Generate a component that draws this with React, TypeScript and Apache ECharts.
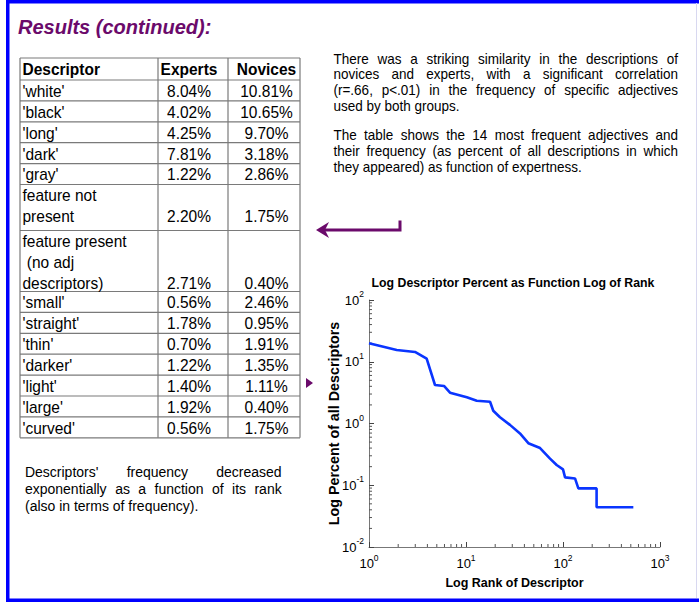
import React, { useEffect, useRef } from 'react';
import * as echarts from 'echarts';

// ---------- data ----------
const pageTitle = 'Results (continued):';
const tableHeaders = ['Descriptor', 'Experts', 'Novices'];
const descriptors = [
  "'white'", "'black'", "'long'", "'dark'", "'gray'",
  'feature not\npresent',
  'feature present\n (no adj\ndescriptors)',
  "'small'", "'straight'", "'thin'", "'darker'", "'light'", "'large'", "'curved'",
];
const expertsPct = [8.04, 4.02, 4.25, 7.81, 1.22, 2.2, 2.71, 0.56, 1.78, 0.7, 1.22, 1.4, 1.92, 0.56];
const novicesPct = [10.81, 10.65, 9.7, 3.18, 2.86, 1.75, 0.4, 2.46, 0.95, 1.91, 1.35, 1.11, 0.4, 1.75];

const rightParagraphs = [
  [
    'There was a striking similarity in the descriptions of',
    'novices and experts, with a significant correlation',
    '(r=.66, p<.01) in the frequency of specific adjectives',
    'used by both groups.',
  ],
  [
    'The table shows the 14 most frequent adjectives and',
    'their frequency (as percent of all descriptions in which',
    'they appeared) as function of expertness.',
  ],
];
const bottomNote = [
  "Descriptors'  frequency  decreased",
  'exponentially as a function of its rank',
  '(also in terms of frequency).',
];

const chartTitle = 'Log Descriptor Percent as Function Log of Rank';
const xAxisName = 'Log Rank of Descriptor';
const yAxisName = 'Log Percent of all Descriptors';

const rankValues = [1, 1.93, 2.98, 3.93, 4.79, 5.93, 6.84, 10.2, 12.9, 17.7, 19.1, 22.4, 28.4, 36, 43.9, 58, 73.5, 86, 100, 105, 133, 144, 222, 222, 531];
const percentValues = [19.9, 15.5, 14.4, 11.2, 4.2, 4.05, 3.16, 2.66, 2.34, 2.25, 1.61, 1.26, 0.95, 0.69, 0.48, 0.4, 0.27, 0.213, 0.181, 0.134, 0.129, 0.089, 0.089, 0.044, 0.044];

// ---------- styles ----------
const PURPLE = '#6b0a6b';
const BLUE = '#0000ff';
const ARIAL = "'Liberation Sans', Arial, sans-serif";

function measureWords(font: string) {
  const c = document.createElement('canvas').getContext('2d')!;
  c.font = font;
  return (s: string) => c.measureText(s).width;
}

function textLine(
  text: string, left: number, right: number, y: number, justify: boolean,
  fontSize: number, out: any[]
) {
  const font = `${fontSize}px 'Liberation Sans'`;
  const base = { fontSize, fontFamily: ARIAL, fill: '#000', verticalAlign: 'middle' };
  if (!justify) {
    out.push({ type: 'text', x: left, y, scaleY: 1.06, silent: true, style: { ...base, text, align: 'left' } });
    return;
  }
  const m = measureWords(font);
  const words = text.split(/\s+/);
  const widths = words.map(m);
  const total = widths.reduce((a, b) => a + b, 0);
  const gap = (right - left - total) / (words.length - 1);
  let x = left;
  words.forEach((w, i) => {
    out.push({ type: 'text', x, y, scaleY: 1.06, silent: true, style: { ...base, text: w, align: 'left' } });
    x += widths[i] + gap;
  });
}

function buildGraphics() {
  const els: any[] = [];
  // frame
  els.push({ type: 'rect', shape: { x: 6, y: 0, width: 693, height: 3.5 }, style: { fill: BLUE }, silent: true });
  els.push({ type: 'rect', shape: { x: 6, y: 0, width: 3.5, height: 602 }, style: { fill: BLUE }, silent: true });
  els.push({ type: 'rect', shape: { x: 6, y: 598.5, width: 693, height: 3.5 }, style: { fill: BLUE }, silent: true });
  els.push({ type: 'line', shape: { x1: 696.5, y1: 3, x2: 696.5, y2: 598 }, style: { stroke: '#d8d8f0', lineWidth: 1 }, silent: true });

  // title
  els.push({
    type: 'text', x: 18, y: 27, silent: true,
    style: { text: pageTitle, fontSize: 20, fontWeight: 'bold', fontStyle: 'italic', fontFamily: ARIAL, fill: PURPLE, verticalAlign: 'middle' },
  });

  // table
  const L = 20, C1 = 158, C2 = 228, R = 300, top = 58, headerH = 22;
  const heightFor = (n: number) => (n === 1 ? 20.9 : n === 2 ? 46 : 61);
  const rowTops: number[] = [];
  let y = top + headerH;
  descriptors.forEach((d) => {
    rowTops.push(y);
    y += heightFor(d.split('\n').length);
  });
  const bottom = y;
  const lineStyle = { stroke: '#7a7a7a', lineWidth: 1.2 };
  [top, top + headerH, ...rowTops.slice(1), bottom].forEach((yy) => {
    els.push({ type: 'line', shape: { x1: L, y1: yy, x2: R, y2: yy }, style: lineStyle, silent: true });
  });
  [L, C1, C2, R].forEach((xx) => {
    els.push({ type: 'line', shape: { x1: xx, y1: top, x2: xx, y2: bottom }, style: lineStyle, silent: true });
  });
  const cellText = (text: string, x: number, yy: number, align: string, bold = false) => ({
    type: 'text', x, y: yy, scaleY: 1.12, silent: true,
    style: {
      text, fontSize: 15.5, fontWeight: bold ? 'bold' : 'normal', fontFamily: ARIAL,
      fill: '#000', align, verticalAlign: 'middle',
    },
  });
  const colX = [22.5, 189, 266.5];
  els.push(cellText(tableHeaders[0], colX[0], top + 11, 'left', true));
  els.push(cellText(tableHeaders[1], colX[1], top + 11, 'center', true));
  els.push(cellText(tableHeaders[2], colX[2], top + 11, 'center', true));
  descriptors.forEach((d, i) => {
    const lines = d.split('\n');
    lines.forEach((ln, j) => {
      els.push(cellText(ln, colX[0], rowTops[i] + 10.5 + j * 20.7, 'left'));
    });
    const lastY = rowTops[i] + 10.5 + (lines.length - 1) * 20.7;
    els.push(cellText(expertsPct[i].toFixed(2) + '%', colX[1], lastY, 'center'));
    els.push(cellText(novicesPct[i].toFixed(2) + '%', colX[2], lastY, 'center'));
  });

  // right paragraphs
  rightParagraphs[0].forEach((ln, i) => textLine(ln, 333.5, 678, 58.5 + i * 15.7, i < rightParagraphs[0].length - 1, 13.5, els));
  rightParagraphs[1].forEach((ln, i) => textLine(ln, 333.5, 678, 135 + i * 15.8, i < rightParagraphs[1].length - 1, 13.5, els));
  // bottom note
  bottomNote.forEach((ln, i) => textLine(ln, 25, 281.7, 471.7 + i * 17.2, i < bottomNote.length - 1, 14, els));

  // arrow
  els.push({ type: 'polyline', shape: { points: [[400, 220.5], [400, 230], [322, 230]] }, style: { stroke: PURPLE, lineWidth: 3, fill: 'none' }, silent: true });
  els.push({ type: 'polygon', shape: { points: [[316, 230], [329, 222], [325, 230], [329, 238]] }, style: { fill: PURPLE }, silent: true });
  // small pointer triangle
  els.push({ type: 'polygon', shape: { points: [[306, 378], [313, 383], [306, 388]] }, style: { fill: PURPLE }, silent: true });

  // chart title
  els.push({
    type: 'text', x: 513, y: 282, scaleY: 1.08, silent: true,
    style: { text: chartTitle, fontSize: 12.3, fontWeight: 'bold', fontFamily: ARIAL, fill: '#000', align: 'center', verticalAlign: 'middle' },
  });
  return els;
}

function expLabel(v: number) {
  const e = Math.round(Math.log10(v));
  return `{b|10}{e|${e}}`;
}

const labelRich = {
  b: { fontSize: 13, fontFamily: ARIAL, color: '#000' },
  e: { fontSize: 8.5, fontFamily: ARIAL, color: '#000', padding: [0, 0, 12, 0] },
};

export default function App() {
  const ref = useRef<HTMLDivElement>(null);
  useEffect(() => {
    const chart = echarts.init(ref.current!, null, { renderer: 'svg' });
    const minorData: number[][] = [];
    for (let k = 0; k < 3; k++) for (let m = 2; m <= 9; m++) minorData.push([m * Math.pow(10, k), 0.01, 0]);
    for (let k = -2; k < 2; k++) for (let m = 2; m <= 9; m++) minorData.push([1, m * Math.pow(10, k), 1]);

    chart.setOption({
      animation: false,
      backgroundColor: '#fff',
      grid: { left: 369, top: 300, width: 291, height: 247, containLabel: false, outerBoundsMode: 'none' },
      xAxis: {
        type: 'log', logBase: 10, min: 1, max: 1000,
        name: xAxisName, nameLocation: 'middle', nameGap: 29, nameMoveOverlap: false,
        nameTextStyle: { fontSize: 12.5, fontWeight: 'bold', fontFamily: ARIAL, color: '#000' },
        axisLine: { lineStyle: { color: '#777', width: 1 } },
        axisTick: { inside: true, length: 5, lineStyle: { color: '#444' } },
        axisLabel: { formatter: expLabel, rich: labelRich, margin: 6 },
        splitLine: { show: false },
      },
      yAxis: {
        type: 'log', logBase: 10, min: 0.01, max: 100,
        name: yAxisName, nameLocation: 'middle', nameGap: 28, nameRotate: 90, nameMoveOverlap: false,
        nameTextStyle: { fontSize: 14.3, fontWeight: 'bold', fontFamily: ARIAL, color: '#000' },
        axisLine: { lineStyle: { color: '#777', width: 1 } },
        axisTick: { inside: true, length: 5, lineStyle: { color: '#444' } },
        axisLabel: { formatter: expLabel, rich: labelRich, margin: 5 },
        splitLine: { show: false },
      },
      series: [
        {
          type: 'custom', clip: false, silent: true, z: 1,
          data: minorData,
          renderItem: (_p: any, api: any) => {
            const p = api.coord([api.value(0), api.value(1)]);
            const dir = api.value(2);
            return {
              type: 'line',
              shape: dir === 0
                ? { x1: p[0], y1: p[1], x2: p[0], y2: p[1] - 3 }
                : { x1: p[0], y1: p[1], x2: p[0] + 3, y2: p[1] },
              style: { stroke: '#555', lineWidth: 1 },
            };
          },
        },
        {
          type: 'line', z: 3, symbol: 'none', showSymbol: false,
          data: rankValues.map((r, i) => [r, percentValues[i]]),
          lineStyle: { color: '#0a35ff', width: 2.6 },
        },
      ],
      graphic: { elements: buildGraphics() },
    });
    return () => chart.dispose();
  }, []);
  return <div ref={ref} style={{ position: 'absolute', left: 0, top: 0, width: 699, height: 604, background: '#fff' }} />;
}
